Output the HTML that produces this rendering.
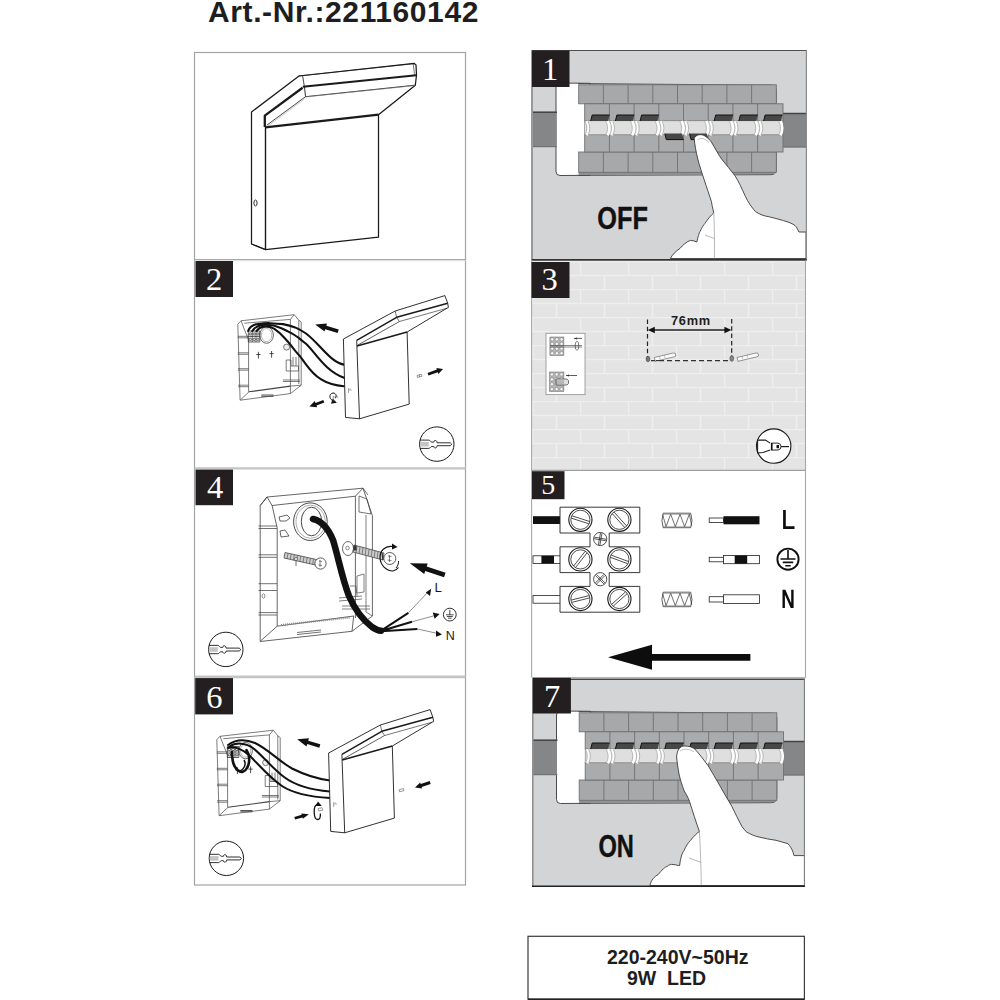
<!DOCTYPE html>
<html><head><meta charset="utf-8">
<style>
html,body{margin:0;padding:0;background:#fff;width:1000px;height:1000px;overflow:hidden}
svg{position:absolute;left:0;top:0}
.t{font-family:"Liberation Sans",sans-serif;font-weight:bold;fill:#1e1e1e}
.n{font-family:"Liberation Serif",serif;fill:#fff}
.s{font-family:"Liberation Sans",sans-serif}
</style></head><body>
<svg width="1000" height="1000" viewBox="0 0 1000 1000">
<defs>
<pattern id="brick" x="532" y="261" width="48" height="28" patternUnits="userSpaceOnUse">
<rect width="48" height="28" fill="#e4e4e4"/>
<path d="M0 0.5H48M0 14.5H48M0.5 0V14M24.5 14V28" stroke="#eeeeee" stroke-width="1.6" fill="none"/>
</pattern>
</defs>
<text class="t" x="208" y="22.4" font-size="30" letter-spacing="0.6">Art.-Nr.:221160142</text>
<g fill="none" stroke="#a3a3a3" stroke-width="1.2">
<rect x="194.5" y="52.5" width="271" height="832.5"/>
<line x1="194.5" y1="259.6" x2="465.5" y2="259.6" stroke="#a6a6a6" stroke-width="1.1"/>
<line x1="194.5" y1="260.8" x2="465.5" y2="260.8" stroke="#e2e2e2" stroke-width="1"/>
<line x1="194.5" y1="468.4" x2="465.5" y2="468.4" stroke="#c4c4c4" stroke-width="2.2"/>
<line x1="194.5" y1="676.9" x2="465.5" y2="676.9" stroke="#c4c4c4" stroke-width="2.6"/>
</g>
<rect x="532" y="50.5" width="274.4" height="209.4" fill="#d3d4d6"/>
<rect x="532" y="260.5" width="273.4" height="210" fill="url(#brick)"/>
<rect x="532.7" y="679.3" width="271.7" height="207" fill="#d3d4d6"/>

<g id="brk"><path d="M560,83 L590,83.3 L590,175.3 L560,175.5 Q556,175.5 556,171.5 L556,87 Q556,83 560,83 Z" fill="#fff" stroke="#4a4a4a" stroke-width="1"/>
<path d="M578,83.6 L771,85.2 Q775.5,85.5 776.3,90 L776.3,170 Q776,174.5 771,174.7 L578,175.3" fill="none" stroke="#4a4a4a" stroke-width="1"/>
<path d="M578.7,172 H776 V173 Q775,174.3 771,174.3 L578.7,175 Z" fill="#8f9092"/>
<rect x="531.5" y="111.7" width="25" height="35.5" fill="#858688"/>
<rect x="783" y="113" width="23" height="34.5" fill="#858688"/>
<path d="M531.5,112.2H557M783,113.5H806" stroke="#444" stroke-width="1.5"/><path d="M531.5,146.6H557M783,147H806" stroke="#6a6a6a" stroke-width="0.8"/>
<rect x="578.7" y="84.8" width="197.6" height="19" fill="#a7a8aa" stroke="#707072" stroke-width="0.9"/><path d="M603.4,84.8V103.8M628.1,84.8V103.8M652.8,84.8V103.8M677.5,84.8V103.8M702.2,84.8V103.8M726.9,84.8V103.8M751.6,84.8V103.8" stroke="#707072" stroke-width="0.9"/>
<rect x="578.7" y="152" width="197.6" height="20.3" fill="#a7a8aa" stroke="#707072" stroke-width="0.9"/><path d="M603.4,152V172.3M628.1,152V172.3M652.8,152V172.3M677.5,152V172.3M702.2,152V172.3M726.9,152V172.3M751.6,152V172.3" stroke="#707072" stroke-width="0.9"/>
<rect x="584.7" y="103.8" width="198.3" height="17.2" fill="#aaabad" stroke="#707072" stroke-width="0.9"/><path d="M609.4,103.8V121M634.1,103.8V121M658.8,103.8V121M683.5,103.8V121M708.2,103.8V121M732.9,103.8V121M757.6,103.8V121" stroke="#707072" stroke-width="0.9"/>
<rect x="584.7" y="134.6" width="198.3" height="17.4" fill="#aaabad" stroke="#707072" stroke-width="0.9"/><path d="M609.4,134.6V152M634.1,134.6V152M658.8,134.6V152M683.5,134.6V152M708.2,134.6V152M732.9,134.6V152M757.6,134.6V152" stroke="#707072" stroke-width="0.9"/>
<rect x="584.7" y="120.8" width="198.3" height="14" fill="#dfdfdf" stroke="#7a7a7a" stroke-width="0.6"/>
<path d="M586.5,121.3q3.6,6.9 0,13.8M607.2,121.3q3.6,6.9 0,13.8M611.2,121.3q3.6,6.9 0,13.8M631.9,121.3q3.6,6.9 0,13.8M635.9,121.3q3.6,6.9 0,13.8M656.6,121.3q3.6,6.9 0,13.8M660.6,121.3q3.6,6.9 0,13.8M681.3,121.3q3.6,6.9 0,13.8M685.3,121.3q3.6,6.9 0,13.8M706,121.3q3.6,6.9 0,13.8M710,121.3q3.6,6.9 0,13.8M730.7,121.3q3.6,6.9 0,13.8M734.7,121.3q3.6,6.9 0,13.8M755.4,121.3q3.6,6.9 0,13.8M759.4,121.3q3.6,6.9 0,13.8M780.1,121.3q3.6,6.9 0,13.8" stroke="#fdfdfd" stroke-width="3.4" fill="none"/>
<path d="M585,121.3q3.6,6.9 0,13.8M588,121.3q3.6,6.9 0,13.8M605.8,121.3q3.6,6.9 0,13.8M609.7,121.3q3.6,6.9 0,13.8M612.7,121.3q3.6,6.9 0,13.8M630.5,121.3q3.6,6.9 0,13.8M634.4,121.3q3.6,6.9 0,13.8M637.4,121.3q3.6,6.9 0,13.8M655.2,121.3q3.6,6.9 0,13.8M659.1,121.3q3.6,6.9 0,13.8M662.1,121.3q3.6,6.9 0,13.8M679.9,121.3q3.6,6.9 0,13.8M683.8,121.3q3.6,6.9 0,13.8M686.8,121.3q3.6,6.9 0,13.8M704.6,121.3q3.6,6.9 0,13.8M708.5,121.3q3.6,6.9 0,13.8M711.5,121.3q3.6,6.9 0,13.8M729.3,121.3q3.6,6.9 0,13.8M733.2,121.3q3.6,6.9 0,13.8M736.2,121.3q3.6,6.9 0,13.8M754,121.3q3.6,6.9 0,13.8M757.9,121.3q3.6,6.9 0,13.8M760.9,121.3q3.6,6.9 0,13.8M778.7,121.3q3.6,6.9 0,13.8M782.6,121.3q3.6,6.9 0,13.8" stroke="#8a8a8a" stroke-width="0.6" fill="none"/></g>
<path d="M592.2,115H609.6L608.1,121H590.7Z" fill="#474748"/><path d="M590.7,121L592.2,115H609.6" fill="none" stroke="#111" stroke-width="1"/>
<path d="M616.9,115H634.3L632.8,121H615.4Z" fill="#474748"/><path d="M615.4,121L616.9,115H634.3" fill="none" stroke="#111" stroke-width="1"/>
<path d="M641.6,115H659L657.5,121H640.1Z" fill="#474748"/><path d="M640.1,121L641.6,115H659" fill="none" stroke="#111" stroke-width="1"/>
<path d="M664.8,133.6H682.2L683.7,139.6H666.3Z" fill="#474748"/><path d="M664.8,133.6L666.3,139.6H683.7" fill="none" stroke="#111" stroke-width="1"/>
<path d="M689.5,133.6H706.9L708.4,139.6H691Z" fill="#474748"/><path d="M689.5,133.6L691,139.6H708.4" fill="none" stroke="#111" stroke-width="1"/>
<path d="M715.7,115H733.1L731.6,121H714.2Z" fill="#474748"/><path d="M714.2,121L715.7,115H733.1" fill="none" stroke="#111" stroke-width="1"/>
<path d="M740.4,115H757.8L756.3,121H738.9Z" fill="#474748"/><path d="M738.9,121L740.4,115H757.8" fill="none" stroke="#111" stroke-width="1"/>
<path d="M765.1,115H782.5L781,121H763.6Z" fill="#474748"/><path d="M763.6,121L765.1,115H782.5" fill="none" stroke="#111" stroke-width="1"/>
<path d="M694.2,138.6 C695.5,134.5 701,133.5 705,136 C708,138 710,140 711.4,142 C715,148 718,154 721.6,159 C726,165 731,170 735.2,176 C739,182 742,189 745.4,196.4 C748,202 752,208 755.6,211.7 C760,214.5 764,216 769.2,216.8 C776,218.5 782,220 788,222 C792,223.5 795,225 796.4,227 L799,232 L806,232 L806,258.5 L670.4,258.5 C672,255 676,251 680,248.4 C683,245 686,242 690.4,240.4 C693,240.5 695,241 696.8,242 C698,237 699,233 700,231.6 C702,227 704,224.5 704.8,223.6 C708,219 711,215 713.8,212.8 C712.5,208 712,205 711.4,201.5 C709,194 706.5,187 704.6,181 C702,173 699.5,166 697.8,159 C696,152 694.8,145 694.2,138.6 Z" fill="#fff" stroke="#3a3a3a" stroke-width="0.9"/>
<path d="M697.5,140 C700,137.5 705,138 709,142.5" stroke="#999" stroke-width="0.6" fill="none"/>
<path d="M713.8,213 C714.5,228 714.6,245 714.4,258.5" stroke="#888" stroke-width="0.6" fill="none"/>
<path d="M705,235 L714.5,238.5" stroke="#888" stroke-width="0.6" fill="none"/>
<text class="t" font-size="30.5" style="fill:#111" stroke="#111" stroke-width="0.4" transform="translate(597.3,229) scale(0.83,1)">OFF</text>
<clipPath id="c7"><rect x="532" y="679" width="272.4" height="207.5"/></clipPath><g clip-path="url(#c7)">
<use href="#brk" transform="translate(0.5,628)"/>
<path d="M592.2,743H609.6L608.1,749H590.7Z" fill="#474748"/><path d="M590.7,749L592.2,743H609.6" fill="none" stroke="#111" stroke-width="1"/>
<path d="M616.9,743H634.3L632.8,749H615.4Z" fill="#474748"/><path d="M615.4,749L616.9,743H634.3" fill="none" stroke="#111" stroke-width="1"/>
<path d="M641.6,743H659L657.5,749H640.1Z" fill="#474748"/><path d="M640.1,749L641.6,743H659" fill="none" stroke="#111" stroke-width="1"/>
<path d="M666.3,743H683.7L682.2,749H664.8Z" fill="#474748"/><path d="M664.8,749L666.3,743H683.7" fill="none" stroke="#111" stroke-width="1"/>
<path d="M691,743H708.4L706.9,749H689.5Z" fill="#474748"/><path d="M689.5,749L691,743H708.4" fill="none" stroke="#111" stroke-width="1"/>
<path d="M715.7,743H733.1L731.6,749H714.2Z" fill="#474748"/><path d="M714.2,749L715.7,743H733.1" fill="none" stroke="#111" stroke-width="1"/>
<path d="M740.4,743H757.8L756.3,749H738.9Z" fill="#474748"/><path d="M738.9,749L740.4,743H757.8" fill="none" stroke="#111" stroke-width="1"/>
<path d="M765.1,743H782.5L781,749H763.6Z" fill="#474748"/><path d="M763.6,749L765.1,743H782.5" fill="none" stroke="#111" stroke-width="1"/>
<path d="M676.6,757 C677,750 680,746 684.2,746 C689,746 693,747 696,750.2 C700,755 704,760 708,765.5 C712,772 716,779 720,786 C724,793 728,800 731.8,806.3 C735,813 738.5,820 742,826.7 L746.3,831.8 C750,834 754,836 759,837 C765,838.5 770,839.5 776,840.3 C780,841.5 784,842.5 788,843.7 C790,846 792,849 793,852.2 L794,855.6 L805.5,855.6 L805.5,885.5 L649.9,885.5 C651,880 655,876 658,874.7 C662,870 665,866.6 667,866.6 C669,864.5 671,864.4 671.5,864.4 C675,864.5 678,865.5 679.6,865.7 C680.5,858 682,853 684.1,850.4 C686,846 688,843 690.4,840.5 C694,836 697,833 699.4,831.5 C696,822 692.5,811 689.5,801.4 C688,797 686,794 684.2,791 C682,785 680,779 679,774 C678,768 677,762 676.6,757 Z" fill="#fff" stroke="#3a3a3a" stroke-width="0.9"/>
<path d="M680,751 C684,748 690,749 694,752" stroke="#999" stroke-width="0.6" fill="none"/>
<path d="M699.4,831.5 C700.5,850 701.2,870 701.2,885.5" stroke="#888" stroke-width="0.6" fill="none"/>
<path d="M689,858 L700.8,862.3" stroke="#888" stroke-width="0.6" fill="none"/>
</g>
<text class="t" font-size="30.5" style="fill:#111" stroke="#111" stroke-width="0.4" transform="translate(598.5,856.6) scale(0.775,1.02)">ON</text>
<g fill="none">
<path d="M531.5,50.5 H806.5" stroke="#4f4f4f" stroke-width="1.1"/>
<path d="M532,50.5 V259.5" stroke="#98999b" stroke-width="2"/>
<path d="M806.4,50.5 V259.5" stroke="#8a8a8a" stroke-width="1.2"/>
<path d="M531.5,259.9 H806.8" stroke="#343434" stroke-width="1.8"/>
<path d="M531.6,260.5 V677" stroke="#a8a8a8" stroke-width="1.1"/>
<path d="M805.5,260.5 V677.5" stroke="#a8a8a8" stroke-width="1.1"/>
<path d="M531.6,470.4 H805.8" stroke="#a0a0a0" stroke-width="1.1"/>
<path d="M531.6,677.6 H805.8" stroke="#b0b0b0" stroke-width="1"/>
<path d="M532,679.3 H805" stroke="#454545" stroke-width="1.4"/>
<path d="M532.8,679 V886.5" stroke="#909090" stroke-width="1.6"/>
<path d="M804.4,679 V886.5" stroke="#7a7a7a" stroke-width="1.1"/>
<path d="M532,886.2 H805" stroke="#222" stroke-width="1.5"/>
</g>
<g fill="none" stroke="#1a1a1a" stroke-linejoin="round">
<path d="M251.5,244 V112 L299,76 L414.2,63.4 L416,65 L416.5,75.2 L415.3,85.2 L378.5,114.7 V237.2 L265.5,249.6 Z" fill="#fff" stroke-width="1.25"/>
<path d="M299,76 L302.6,75.5 L304.4,86.8" stroke-width="0.8"/>
<path d="M302.6,75.5 L414.8,63.6" stroke-width="0.6"/>
<path d="M413.2,63.6 L414.5,74.8" stroke-width="0.6"/>
<path d="M302.8,86.8 L416.3,75.2" stroke-width="2.1"/>
<path d="M304.5,87 L305.5,96.7 L415.2,85.2" stroke-width="0.9"/>
<path d="M305.5,96.9 L415,85.6" stroke="#888" stroke-width="0.6"/>
<path d="M302.6,87.7 L264.8,115.6 V127" stroke-width="2.3"/>
<path d="M305.5,96.7 L266.8,125.2" stroke-width="0.8"/>
<path d="M304.5,99 L268,126" stroke="#999" stroke-width="0.5"/>
<path d="M265.3,127.3 L378.5,114.7" stroke-width="2.3"/>
<path d="M265.5,127 V249.6" stroke-width="1.4"/>
<path d="M251.5,244 L265.5,249.6" stroke-width="1"/>
<ellipse cx="255.5" cy="203" rx="1.6" ry="3" stroke-width="0.9"/>
</g>

<g id="plate2"><g fill="none" stroke="#444" stroke-width="0.7" stroke-linejoin="round">
<path d="M241,320.8 L294.2,314.7 L298.8,320.3 L301.2,322 L301.2,385.2 L290.4,393.6 L240.1,400.2 L237.8,324.1 Z" fill="#fff"/>
<path d="M241,320.8 L248.6,340 V391.8 M244.3,323.2 L290.4,319.4 M290.4,319.4 V393.6 M294.2,314.7 L290.4,319.4 M298.8,320.3 L298.8,384 M301.2,385.2 L290.4,386.1"/>
<path d="M249,391.8 L290.4,386.1" stroke-width="1.1"/>
<path d="M249,391.8 L240.5,399.8"/>
<path d="M237.8,336.3 H248.6 M237.8,337.8 H248.6 M237.8,352.8 H248.6 M237.8,354.3 H248.6 M238,368.7 H248.6 M238,370.2 H248.6 M238.2,385.2 H248.6 M238.2,386.7 H248.6"/>
<path d="M286.2,360 H291 V366 H298.5 V371 H286.2 Z M293,357 V366 M296,357 V366 M282.9,380 H299.8 M282.9,381.5 H299.8"/>
<path d="M261.3,395 H273.5 M261.3,396.3 H273.5" stroke-width="0.9"/>
<circle cx="286.6" cy="347.1" r="3" fill="#eee"/>
<path d="M258.4,351.8 V358.5 M256.3,354.5 H260.5 M271.6,351 V357.7 M269.5,353.6 H273.7" stroke="#222" stroke-width="0.8"/>
<ellipse cx="266.6" cy="335.1" rx="6.8" ry="8.2" stroke-width="0.8"/>
<ellipse cx="266.6" cy="335.1" rx="5.2" ry="6.6" stroke="#999"/>
</g>
<g fill="none" stroke="#222" stroke-width="0.7"><path d="M248.3,331 h11.5 v11 h-11.5z M252.2,331 v11 M256,331 v11 M248.3,336.5 h11.5"/><circle cx="250.2" cy="334" r="1.2"/><circle cx="254.1" cy="334" r="1.2"/><circle cx="257.9" cy="334" r="1.2"/><circle cx="250.2" cy="339.3" r="1.2"/><circle cx="254.1" cy="339.3" r="1.2"/><circle cx="257.9" cy="339.3" r="1.2"/></g></g>
<g fill="none" stroke="#111" stroke-width="2.1" stroke-linecap="round">
<path d="M248.1,331 C250,326 253,324.5 257.5,324.1 C262,323.5 266,323 269.7,323.2 C274,323.4 278,323.6 282.9,324.1 C287,325 291,326 295.1,327.4 C300,329.5 303,331.5 306,333.5 C320,344 330,362 344,364.6"/>
<path d="M252.3,331 C254,328 258,325.8 262.2,325 C266,324.5 270,325 273.5,325.5 C278,326.5 282,328.5 286.6,330.7 C291,333 295,335 297.9,337.3 C301,340 304,342 306,343.8 C315,352 325,371 344,377.8"/>
<path d="M256.6,331 C258.5,328.5 261.5,326.8 265,326.4 C268.5,326.2 271.5,327 274.4,328.8 C278.5,331.5 282,335 284.8,338.2 C288.5,342 291.5,346 294.2,349.5 C296,352 298,354 299.8,356 C302,359 304,362 305.4,363.6 C315,377 325,385 344,386.2"/>
</g>
<path d="M338.7,329.4 L326.3,325.7 L327,323.4 L315.2,324.4 L324.5,331.6 L325.2,329.3 L337.7,333 Z" fill="#111"/>
<path d="M323.3,400 L315.5,402.9 L314.8,401.1 L309.4,406.6 L317.1,407.2 L316.5,405.5 L324.3,402.6 Z" fill="#111"/>
<path d="M428.5,375.5 L437.8,372.3 L438.4,374 L443,369 L436.3,367.9 L436.9,369.6 L427.5,372.9 Z" fill="#111"/>
<path d="M334,401 C329,400 328.5,393.5 333,393 C336.5,393 337,397 335,398.3" fill="none" stroke="#111" stroke-width="1"/>
<path d="M331,403.8 L336.8,402.8 L332.7,398.5 Z" fill="#111"/>
<path d="M333.3,396 L333.2,402 M333,397 L337.5,396.5 L338,398" stroke="#555" stroke-width="0.5" fill="none"/>
<g id="lamp2" fill="none" stroke="#1a1a1a" stroke-linejoin="round">
<path d="M343.4,339 L395.2,311 L444.9,295.6 L447.7,303.3 L448.4,307.5 L447,308.2 L407.1,332 L409.2,404.1 L359.5,418.8 L345.5,417.4 Z" fill="#fff" stroke-width="0.9"/>
<path d="M356.7,340.4 L396.6,317.3 L447.7,303.3" stroke-width="1.5"/>
<path d="M395.2,311 L396.6,317.3 L399.4,321.5 M399.4,321.5 L447,308.2" stroke-width="0.6"/>
<path d="M357.4,345.3 L399.4,321.5" stroke-width="0.7"/>
<path d="M357,346 L407.1,332" stroke-width="1.6"/>
<path d="M356.7,340.4 L359.5,418.8" stroke-width="0.9"/>
<path d="M348.5,388 v5 M348.5,390 h2 M350,388.5 l1.5,2" stroke="#555" stroke-width="0.5"/>
</g>
<path d="M417,375.5 L421.5,374.2 L422,376.3 L417.5,377.5 Z M419.5,374.7 v2.3" fill="#fff" stroke="#555" stroke-width="0.6"/>
<circle cx="436.8" cy="444.1" r="17.2" fill="#fff" stroke="#1a1a1a" stroke-width="1"/><rect x="420.2" y="441.9" width="8.6" height="4.6" fill="#c4c4c4"/><path d="M419.9,440.1 H428.9 C430.2,440.1 430.4,442.1 431.8,442.1 H433.8 C433.8,439.8 437.1,439.8 437.1,442.8 H450.2 L451.8,444.3 L450.2,445.7 H437.1 C437.1,448.6 433.8,448.6 433.8,446.5 H431.8 C430.4,446.5 430.2,448.4 428.9,448.4 H419.9" fill="none" stroke="#1a1a1a" stroke-width="0.9"/>
<rect x="546" y="333.3" width="39" height="61.3" fill="#fff" stroke="#9a9a9a" stroke-width="0.9"/>
<rect x="549.9" y="337" width="14" height="18.5" fill="#b6b6b6" stroke="#666" stroke-width="0.5"/><circle cx="552.2" cy="339.3" r="1.65" fill="#f6f6f6" stroke="#666" stroke-width="0.4"/><circle cx="556.9" cy="339.3" r="1.65" fill="#f6f6f6" stroke="#666" stroke-width="0.4"/><circle cx="561.6" cy="339.3" r="1.65" fill="#f6f6f6" stroke="#666" stroke-width="0.4"/><circle cx="552.2" cy="343.9" r="1.65" fill="#f6f6f6" stroke="#666" stroke-width="0.4"/><circle cx="556.9" cy="343.9" r="1.65" fill="#f6f6f6" stroke="#666" stroke-width="0.4"/><circle cx="561.6" cy="343.9" r="1.65" fill="#f6f6f6" stroke="#666" stroke-width="0.4"/><circle cx="552.2" cy="348.6" r="1.65" fill="#f6f6f6" stroke="#666" stroke-width="0.4"/><circle cx="556.9" cy="348.6" r="1.65" fill="#f6f6f6" stroke="#666" stroke-width="0.4"/><circle cx="561.6" cy="348.6" r="1.65" fill="#f6f6f6" stroke="#666" stroke-width="0.4"/><circle cx="552.2" cy="353.2" r="1.65" fill="#f6f6f6" stroke="#666" stroke-width="0.4"/><circle cx="556.9" cy="353.2" r="1.65" fill="#f6f6f6" stroke="#666" stroke-width="0.4"/><circle cx="561.6" cy="353.2" r="1.65" fill="#f6f6f6" stroke="#666" stroke-width="0.4"/>
<rect x="549.5" y="372" width="14.4" height="19.5" fill="#b6b6b6" stroke="#666" stroke-width="0.5"/><circle cx="551.9" cy="374.4" r="1.65" fill="#f6f6f6" stroke="#666" stroke-width="0.4"/><circle cx="556.7" cy="374.4" r="1.65" fill="#f6f6f6" stroke="#666" stroke-width="0.4"/><circle cx="561.5" cy="374.4" r="1.65" fill="#f6f6f6" stroke="#666" stroke-width="0.4"/><circle cx="551.9" cy="379.3" r="1.65" fill="#f6f6f6" stroke="#666" stroke-width="0.4"/><circle cx="556.7" cy="379.3" r="1.65" fill="#f6f6f6" stroke="#666" stroke-width="0.4"/><circle cx="561.5" cy="379.3" r="1.65" fill="#f6f6f6" stroke="#666" stroke-width="0.4"/><circle cx="551.9" cy="384.2" r="1.65" fill="#f6f6f6" stroke="#666" stroke-width="0.4"/><circle cx="556.7" cy="384.2" r="1.65" fill="#f6f6f6" stroke="#666" stroke-width="0.4"/><circle cx="561.5" cy="384.2" r="1.65" fill="#f6f6f6" stroke="#666" stroke-width="0.4"/><circle cx="551.9" cy="389.1" r="1.65" fill="#f6f6f6" stroke="#666" stroke-width="0.4"/><circle cx="556.7" cy="389.1" r="1.65" fill="#f6f6f6" stroke="#666" stroke-width="0.4"/><circle cx="561.5" cy="389.1" r="1.65" fill="#f6f6f6" stroke="#666" stroke-width="0.4"/>
<path d="M550,345.5 H582 M550,347 H582" stroke="#555" stroke-width="0.7"/>
<ellipse cx="577" cy="345.8" rx="1.8" ry="4.5" fill="none" stroke="#444" stroke-width="0.7"/>
<path d="M574,338.4 H582" stroke="#333" stroke-width="0.8"/><path d="M574,338.4 l3,-1 v2z" fill="#333"/>
<path d="M556,379 h11 l1.5,1.5 v3 l-1.5,1.5 h-11 z" fill="#ddd" stroke="#444" stroke-width="0.7"/>
<path d="M557,380.2 v4 M559,380.2 v4 M561,380.2 v4 M563,380.2 v4" stroke="#444" stroke-width="0.5"/>
<path d="M566,375.5 H577" stroke="#333" stroke-width="0.8"/><path d="M566,375.5 l3,-1 v2z" fill="#333"/>
<path d="M647.5,319.5 V360 M731.7,319 V360" stroke="#222" stroke-width="1.2" stroke-dasharray="4.5,2.8"/>
<path d="M651,330 H728" stroke="#222" stroke-width="1.4"/>
<path d="M647.8,330 l7,-3.3 v6.6z M731.4,330 l-7,-3.3 v6.6z" fill="#111"/>
<text class="t" x="671" y="325.4" font-size="12.8" letter-spacing="0.75" fill="#1a1a1a">76mm</text>
<path d="M651,360.7 H730" stroke="#333" stroke-width="1.3" stroke-dasharray="5,3"/>
<ellipse cx="648" cy="359" rx="1.9" ry="2.8" fill="#777" stroke="#444" stroke-width="0.6"/>
<ellipse cx="731.8" cy="358.5" rx="1.9" ry="2.8" fill="#888" stroke="#444" stroke-width="0.6"/>
<path d="M654.3,357.5 l19,-4.5 l2,0.3 l0.6,2.6 l-1.6,0.9 l-19,4.5 z" fill="#fafafa" stroke="#555" stroke-width="0.6"/><path d="M659.3,356.3 l0.8,2.8 M664.3,355.1 l0.8,2.8" stroke="#888" stroke-width="0.5"/>
<path d="M737,357.5 l19,-4.5 l2,0.3 l0.6,2.6 l-1.6,0.9 l-19,4.5 z" fill="#fafafa" stroke="#555" stroke-width="0.6"/><path d="M742,356.3 l0.8,2.8 M747,355.1 l0.8,2.8" stroke="#888" stroke-width="0.5"/>
<path d="M656,360.5 h8" stroke="#333" stroke-width="1"/>
<circle cx="773.7" cy="446.1" r="17.2" fill="#fff" stroke="#1a1a1a" stroke-width="1.1"/>
<path d="M757.3,440.1 H765.4 L770.2,443.1 M757.3,453 L763,452.5 L770.2,450 M757.6,440.1 V453" fill="none" stroke="#1a1a1a" stroke-width="1.05"/>
<path d="M771.4,443.1 H778 Q781,443.5 781,446.6 Q781,449.6 778,450 H771.4 Z" fill="#fff" stroke="#111" stroke-width="0.9"/>
<path d="M771.8,443 V450.2" stroke="#111" stroke-width="1.6"/><path d="M776.5,445 h2.5 v3.2 h-2.5z" fill="#111"/>
<path d="M781,446.6 H789" stroke="#1a1a1a" stroke-width="1.2"/>
<g fill="none" stroke="#333" stroke-width="0.75" stroke-linejoin="round">
<path d="M260.2,505.5 L267,497 L363,488.2 L372.4,515.7 L372.4,616 L352,631.3 L260.2,641.5 Z" fill="#fff"/>
<path d="M267,497 L272.1,505.5 L355.4,496.2 L363,488.2 M272.1,505.5 L277.2,528 M355.4,496.2 V618"/>
<path d="M277.2,528 V626.2 L353.7,616 M277.2,626.2 L260.5,641 M353.7,616 L352,631.3"/>
<path d="M260.2,505.5 L267,497"/>
<path d="M359,496 L367,499 L371,514 L359,512 Z M363,488.2 L368,495" stroke="#444"/>
<path d="M366,515 V612 M372.4,616 L366,612" stroke="#555"/>
<path d="M258.5,526 H277 M258.5,528.5 H277 M258.5,554.8 H277 M258.5,557.3 H277 M258.5,583.7 H277 M258.5,590.5 H277 M258.5,612.6 H277 M258.5,615 H277" stroke="#444"/>
<ellipse cx="263.5" cy="596" rx="1.4" ry="2.2" stroke="#444" stroke-width="0.6"/>
<path d="M297,632.5 L321,630 M297,634.5 L321,632" stroke="#444"/>
<path d="M281,625 L350,617.5" stroke="#888" stroke-width="2" stroke-dasharray="1,1"/>
<path d="M279,517 L287,515 L290,518 L286,521 L280,521 Z M280,531 L285,530 L289,536 L281,537 Z" fill="#fff" stroke="#333"/>
<path d="M364,574 V592 L357,593 V576 Z M339,598 L362,596 M339,601 L362,599 M342,606 H370 M342,609 H370" stroke="#555"/>
<path d="M350,586 L356,586 L357,596" stroke="#555"/>
</g>
<ellipse cx="310.4" cy="521.7" rx="16.8" ry="18.8" fill="#fff" stroke="#333" stroke-width="0.9"/>
<ellipse cx="310.6" cy="521.7" rx="14.6" ry="16.6" fill="none" stroke="#777" stroke-width="0.6"/>
<ellipse cx="311.5" cy="521.5" rx="10.2" ry="14.3" fill="#fff" stroke="#333" stroke-width="0.9"/>
<path d="M285,552.5 L321,560.5 L320,566 L284,558 Z" fill="#ccc" stroke="#333" stroke-width="0.7"/>
<path d="M288,553.2 l-1,5.8 M291.2,553.9 l-1,5.8 M294.4,554.6 l-1,5.8 M297.6,555.3 l-1,5.8 M300.8,556 l-1,5.8 M304,556.7 l-1,5.8 M307.2,557.4 l-1,5.8 M310.4,558.1 l-1,5.8 M313.6,558.8 l-1,5.8 M316.8,559.5 l-1,5.8 M320,560.2 l-1,5.8 " stroke="#444" stroke-width="0.6"/>
<circle cx="320.5" cy="563.5" r="5.6" fill="#fff" stroke="#333" stroke-width="0.8"/>
<path d="M319,561 l3,0.5 M320,560 v7 M318.5,565 l3.5,0.5" stroke="#333" stroke-width="0.6"/>
<path d="M296,559 v7" stroke="#333" stroke-width="0.7"/><circle cx="296" cy="559" r="1.5" fill="#fff" stroke="#333" stroke-width="0.6"/>
<ellipse cx="348" cy="548.5" rx="5.5" ry="7" fill="#fff" stroke="#444" stroke-width="0.8"/>
<circle cx="347.5" cy="548" r="1.8" fill="none" stroke="#444" stroke-width="0.6"/>
<path d="M354,545 L384,553 L383,560 L353,552 Z" fill="#ccc" stroke="#333" stroke-width="0.7"/>
<path d="M357,546 l-0.8,6.5 M360,546.8 l-0.8,6.5 M363,547.6 l-0.8,6.5 M366,548.4 l-0.8,6.5 M369,549.2 l-0.8,6.5 M372,550 l-0.8,6.5 M375,550.8 l-0.8,6.5 M378,551.6 l-0.8,6.5 M381,552.4 l-0.8,6.5 " stroke="#444" stroke-width="0.6"/>
<rect x="353.5" y="545.5" width="3" height="5" fill="#333"/>
<circle cx="389.8" cy="558.5" r="6" fill="#fff" stroke="#333" stroke-width="0.8"/>
<path d="M388,556 l3.5,0.5 M389.5,555 v7 M387.5,560 l4,0.6" stroke="#333" stroke-width="0.6"/>
<path d="M382,553 L383,560" stroke="#333" stroke-width="1.2"/>
<path d="M392.5,546.5 C385,545.5 379.5,551 380,558 C380.5,565 386,571 393,571 C395,570.5 397,569.5 398.5,567.5" fill="none" stroke="#111" stroke-width="1.1"/>
<path d="M392,543.5 L397.5,547 L392,549.5 Z" fill="#111"/>
<path d="M396,568 C398,566 398.7,563 398.5,561" fill="none" stroke="#111" stroke-width="1"/>
<path d="M445.6,572.7 L426.7,566.4 L427.7,563.5 L409.8,563.3 L424.2,573.9 L425.2,571 L444,577.3 Z" fill="#111"/>
<path d="M313,519 C322,521 328,528 333,540 C338,556 342,578 349,596 C355,610 363,620 372,627 C375,629 378,630.5 381,630.8" fill="none" stroke="#111" stroke-width="6.5" stroke-linecap="round"/>
<path d="M380.8,630.8 L408.4,612.8 M381,631 L412,621.8 M381,631.2 L417.4,629" stroke="#111" stroke-width="2" fill="none"/>
<path d="M408.4,612.8 L428,592 M412,621.8 L435,615.5 M417.4,629 L437,633.3" stroke="#444" stroke-width="0.6" fill="none"/>
<path d="M431.2,588.8 L425.8,592.5 L430,596 Z M439.6,614 L432.8,612.4 L434.6,618.8 Z M442,634.4 L436,630.5 L436,636.8 Z" fill="#111"/>
<text class="s" x="434.4" y="591.8" font-size="13.3" fill="#1a1a1a">L</text>
<text class="s" x="445.8" y="640.4" font-size="12.5" fill="#1a1a1a">N</text>
<circle cx="449.8" cy="614.6" r="6.4" fill="#fff" stroke="#1a1a1a" stroke-width="0.9"/>
<path d="M449.8,609.8 V614.8 M446,614.8 H453.6 M446.9,616.5 H452.7 M448,618.2 H451.6" stroke="#1a1a1a" stroke-width="0.8"/>
<circle cx="225.8" cy="649.4" r="17.2" fill="#fff" stroke="#1a1a1a" stroke-width="1"/><rect x="209.2" y="647.2" width="8.6" height="4.6" fill="#c4c4c4"/><path d="M208.9,645.4 H217.9 C219.2,645.4 219.4,647.4 220.8,647.4 H222.8 C222.8,645.1 226.1,645.1 226.1,648.1 H239.2 L240.8,649.6 L239.2,651 H226.1 C226.1,653.9 222.8,653.9 222.8,651.8 H220.8 C219.4,651.8 219.2,653.7 217.9,653.7 H208.9" fill="none" stroke="#1a1a1a" stroke-width="0.9"/>
<rect x="533" y="516.2" width="27.6" height="7.8" fill="#111"/>
<rect x="533" y="555.8" width="27.6" height="7.6" fill="#fff" stroke="#222" stroke-width="0.8"/>
<rect x="541.4" y="555.8" width="12.6" height="7.6" fill="#111"/>
<rect x="533" y="595.4" width="27.6" height="7.8" fill="#fff" stroke="#222" stroke-width="0.8"/>
<path d="M560,507.2 H639.8 V533 H609.2 V546.8 H639.8 V572.6 H609.2 V586.4 H639.8 V612.2 H560 V586.4 H590 V572.6 H560 V546.8 H590 V533 H560 Z" fill="#fff" stroke="#222" stroke-width="0.9"/>
<circle cx="580.4" cy="519.8" r="11.6" fill="#fff" stroke="#1a1a1a" stroke-width="1.1"/><circle cx="580.4" cy="519.8" r="9.6" fill="none" stroke="#222" stroke-width="0.8"/><path d="M571.2,518.1 L588.9,523.8 M571.9,515.8 L589.6,521.5" stroke="#222" stroke-width="0.8"/>
<circle cx="619.4" cy="519.8" r="11.6" fill="#fff" stroke="#1a1a1a" stroke-width="1.1"/><circle cx="619.4" cy="519.8" r="9.6" fill="none" stroke="#222" stroke-width="0.8"/><path d="M612.3,513.7 L624.7,527.5 M614.1,512.1 L626.5,525.9" stroke="#222" stroke-width="0.8"/>
<circle cx="580.4" cy="559.4" r="11.6" fill="#fff" stroke="#1a1a1a" stroke-width="1.1"/><circle cx="580.4" cy="559.4" r="9.6" fill="none" stroke="#222" stroke-width="0.8"/><path d="M575.6,567.5 L587.1,552.8 M573.7,566 L585.2,551.3" stroke="#222" stroke-width="0.8"/>
<circle cx="619.4" cy="559.4" r="11.6" fill="#fff" stroke="#1a1a1a" stroke-width="1.1"/><circle cx="619.4" cy="559.4" r="9.6" fill="none" stroke="#222" stroke-width="0.8"/><path d="M610.3,557.3 L627.7,563.7 M611.1,555.1 L628.5,561.5" stroke="#222" stroke-width="0.8"/>
<circle cx="580.4" cy="599" r="11.6" fill="#fff" stroke="#1a1a1a" stroke-width="1.1"/><circle cx="580.4" cy="599" r="9.6" fill="none" stroke="#222" stroke-width="0.8"/><path d="M571.7,602.4 L589.7,597.9 M571.1,600.1 L589.1,595.6" stroke="#222" stroke-width="0.8"/>
<circle cx="619.4" cy="599" r="11.6" fill="#fff" stroke="#1a1a1a" stroke-width="1.1"/><circle cx="619.4" cy="599" r="9.6" fill="none" stroke="#222" stroke-width="0.8"/><path d="M613.3,606.1 L627.1,593.7 M611.7,604.3 L625.5,591.9" stroke="#222" stroke-width="0.8"/>
<circle cx="600.2" cy="539" r="6.6" fill="#fff" stroke="#222" stroke-width="0.8"/><path d="M594.2,538.7L606,540.8M594.4,537.2L606.2,539.3M600.5,533L598.4,544.8M602,533.2L599.9,545" stroke="#222" stroke-width="0.75"/>
<circle cx="600.2" cy="579.2" r="6.6" fill="#fff" stroke="#222" stroke-width="0.8"/><path d="M595.4,575.5L603.9,584M596.5,574.4L605,582.9M603.9,574.4L595.4,582.9M605,575.5L596.5,584" stroke="#222" stroke-width="0.75"/>
<path d="M663.2,513.2 H690.7 Q693.3,520.5 690.7,527.7 H663.2 Q660.6,520.5 663.2,513.2 Z" fill="#fff" stroke="#333" stroke-width="0.8"/><path d="M662.7,514.7L666,526.7L670.7,514.2L675.3,526.7L680,514.2L684.6,526.7L689.3,514.2L691.7,525.7" fill="none" stroke="#333" stroke-width="0.7"/><path d="M663.2,514.5 H690.7 M663.2,526.4 H690.7" stroke="#777" stroke-width="0.5"/>
<path d="M663.2,592.2 H690.7 Q693.3,599.5 690.7,606.7 H663.2 Q660.6,599.5 663.2,592.2 Z" fill="#fff" stroke="#333" stroke-width="0.8"/><path d="M662.7,593.7L666,605.7L670.7,593.2L675.3,605.7L680,593.2L684.6,605.7L689.3,593.2L691.7,604.7" fill="none" stroke="#333" stroke-width="0.7"/><path d="M663.2,593.5 H690.7 M663.2,605.4 H690.7" stroke="#777" stroke-width="0.5"/>
<rect x="709.2" y="518" width="14.3" height="4.5" fill="#fff" stroke="#222" stroke-width="0.8"/>
<rect x="723.5" y="516.2" width="36" height="8.1" fill="#111"/>
<rect x="709.2" y="557.3" width="14.3" height="4.5" fill="#fff" stroke="#222" stroke-width="0.8"/>
<rect x="723.5" y="555.5" width="36" height="8.2" fill="#fff" stroke="#222" stroke-width="0.8"/>
<rect x="734.7" y="555.5" width="12.5" height="8.2" fill="#111"/>
<rect x="709.2" y="596.7" width="14.3" height="5.3" fill="#fff" stroke="#222" stroke-width="0.8"/>
<rect x="723.5" y="594.8" width="36" height="8.7" fill="#fff" stroke="#222" stroke-width="0.8"/>
<path d="M783.1,510 H785.8 V526.3 H794.5 V528.9 H783.1 Z" fill="#0d0d0d"/>
<path d="M782.5,589.8 H785.4 L791.2,603.2 V589.8 H793.6 V608.1 H790.7 L784.9,594.7 V608.1 H782.5 Z" fill="#0d0d0d"/>
<circle cx="788" cy="559.2" r="10.6" fill="#fff" stroke="#111" stroke-width="1.9"/>
<path d="M788,550 V558.5 M780.5,559 H795.5 M782.8,562.4 H793.2 M785.3,565.7 H790.7" stroke="#111" stroke-width="1.6"/>
<path d="M608,657.2 L652,644.7 L652,654 L750.4,654 L750.4,660.7 L652,660.7 L652,669.7 Z" fill="#0d0d0d"/>
<use href="#plate2" transform="translate(-21,415.5)"/>
<g fill="none" stroke="#111" stroke-width="2" stroke-linecap="round">
<path d="M228,745 C235,740 245,739 255,743 C268,749 280,762 292,768.5 C305,775 318,779 330,780.5"/>
<path d="M229.5,746.5 C236,742 246,743 253,748 C263,756 272,768 284,777 C296,786 312,790 330,791.5"/>
<path d="M228,748 C234,746 243,749 250,756 C259,765 270,778 282,786 C294,794 312,797 330,798"/>
</g>
<path d="M246.5,750 C250,755 250,763 247,768 C245,772 241,773 238,770.5 C235,768 233,764 232.5,759 C232,756 231.5,754 232,752" fill="none" stroke="#111" stroke-width="2.6" stroke-linecap="round"/>
<path d="M244,760 C247,765 243,770 240,771" fill="none" stroke="#111" stroke-width="1.5"/>
<use href="#lamp2" transform="translate(-14.8,414)"/>
<path d="M320.3,744.3 L308.2,740.7 L309,738.3 L297.2,739.2 L306.5,746.4 L307.2,744 L319.3,747.7 Z" fill="#111"/>
<path d="M295.1,819.6 L302.5,817.5 L302.8,818.8 L308.8,814.2 L301.3,813.5 L301.7,814.8 L294.3,817 Z" fill="#111"/>
<path d="M429.7,781.1 L420.7,784 L420.2,782.4 L415,787.5 L422.2,788.6 L421.6,786.9 L430.7,783.9 Z" fill="#111"/>
<path d="M320.4,813.5 C320.6,818 319.5,819.5 317.6,819.5 C315.3,819.5 314.2,815.5 314.2,811.5 C314.2,807.5 315.3,805 317,804.8" fill="none" stroke="#111" stroke-width="1.3"/>
<path d="M315.3,806 L321.8,806 L318,801.4 Z" fill="#111"/>
<path d="M318,808.5 l4,-0.8 l0.8,2.5 l-4,0.8 z" fill="#fff" stroke="#555" stroke-width="0.6"/>
<path d="M399,789.8 L403.5,788.5 L404,790.6 L399.5,791.8 Z" fill="#fff" stroke="#555" stroke-width="0.6"/>
<circle cx="226.4" cy="858.3" r="17.2" fill="#fff" stroke="#1a1a1a" stroke-width="1"/><rect x="209.9" y="856.1" width="8.6" height="4.6" fill="#c4c4c4"/><path d="M209.6,854.3 H218.6 C219.9,854.3 220.1,856.3 221.4,856.3 H223.4 C223.4,854 226.7,854 226.7,857 H239.9 L241.4,858.5 L239.9,859.9 H226.7 C226.7,862.8 223.4,862.8 223.4,860.7 H221.4 C220.1,860.7 219.9,862.6 218.6,862.6 H209.6" fill="none" stroke="#1a1a1a" stroke-width="0.9"/>
<g fill="#231f20">
<rect x="532" y="50.5" width="37.5" height="36.5"/>
<rect x="195.5" y="261" width="37.5" height="36"/>
<rect x="531.5" y="262" width="38" height="36"/>
<rect x="195.5" y="469.6" width="37.5" height="35.6"/>
<rect x="532" y="471.2" width="32.5" height="28"/>
<rect x="195.2" y="678.1" width="37.8" height="36.3"/>
<rect x="532.8" y="677.8" width="38.1" height="35.7"/>
</g>
<g class="n" font-size="32.5" text-anchor="middle">
<text x="550.1" y="80">1</text>
<text x="214.2" y="290">2</text>
<text x="549.6" y="290.2">3</text>
<text x="215.1" y="498">4</text>
<text x="548.3" y="493.8" font-size="28">5</text>
<text x="214.3" y="707.6">6</text>
<text x="552" y="706.7">7</text>
</g>
<rect x="528" y="936.3" width="276.4" height="62.9" fill="#fff" stroke="#3a3a3a" stroke-width="1.2"/><path d="M528,999.2 H804.4" stroke="#222" stroke-width="1.4"/>
<text class="t" x="607" y="964" font-size="19.5">220-240V~50Hz</text>
<text class="t" x="627" y="985" font-size="19.5">9W&#160; LED</text>
</svg>
</body></html>
